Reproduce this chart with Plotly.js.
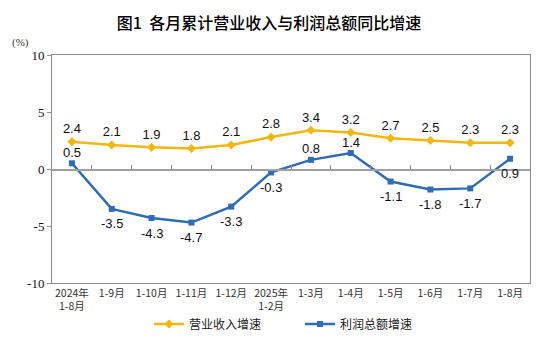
<!DOCTYPE html>
<html><head><meta charset="utf-8">
<script src="https://cdn.plot.ly/plotly-3.0.1.min.js"></script>
<style>html,body{margin:0;padding:0;background:#fff}</style>
</head><body>
<div id="chart" style="width:549px;height:354px"></div>
<script>
const categories = ["2024年<br>1-8月","1-9月","1-10月","1-11月","1-12月","2025年<br>1-2月","1-3月","1-4月","1-5月","1-6月","1-7月","1-8月"];
const revenueGrowth = [2.4, 2.1, 1.9, 1.8, 2.1, 2.8, 3.4, 3.2, 2.7, 2.5, 2.3, 2.3];
const profitGrowth = [0.5, -3.5, -4.3, -4.7, -3.3, -0.3, 0.8, 1.4, -1.1, -1.8, -1.7, 0.9];
const profitLabelAbove = [true, false, false, false, false, false, true, true, false, false, false, false];
const yTicks = [-10, -5, 0, 5, 10];
const seriesNames = ["营业收入增速", "利润总额增速"];

const cjk = '"Noto Sans CJK SC", sans-serif';
const numFont = {family:'"Liberation Sans", Arial, sans-serif', size:13, color:'#111'};
const yellow = '#F5B70F', blue = '#2E6CB5';
const idx = categories.map((c,i)=>i);

const traces = [
  {x: idx, y: revenueGrowth, name: seriesNames[0], type:'scatter', mode:'lines+markers+text',
   line:{color:yellow, width:2.5}, marker:{symbol:'diamond', size:7, color:yellow},
   text: revenueGrowth.map(v=>v.toFixed(1)), textposition:'top center',
   textfont:numFont, cliponaxis:false},
  {x: idx, y: profitGrowth, name: seriesNames[1], type:'scatter', mode:'lines+markers',
   line:{color:blue, width:2.5}, marker:{symbol:'square', size:6, color:blue}, cliponaxis:false}
];

const profitAnn = profitGrowth.map((v,i)=>({
  x:i, y:v, xref:'x', yref:'y', text:v.toFixed(1), showarrow:false,
  yanchor:'middle', xanchor:'center', yshift: profitLabelAbove[i] ? 11 : -15, font:numFont
}));

const layout = {
  width:549, height:354,
  margin:{l:52, r:19, t:55, b:71, autoexpand:false},
  paper_bgcolor:'#fff', plot_bgcolor:'#fff',
  title:{text:'图1  各月累计营业收入与利润总额同比增速', font:{family:cjk, size:16, color:'#000', weight:500}, x:0.49, xanchor:'center', y:0.935, yanchor:'middle'},
  showlegend:true,
  legend:{orientation:'h', x:0.203, xanchor:'left', y:-0.18, yanchor:'middle', bgcolor:'rgba(0,0,0,0)',
    font:{family:cjk, size:12, color:'#222'}, itemwidth:30, traceorder:'normal',
    entrywidth:106, entrywidthmode:'pixels'},
  xaxis:{type:'linear', range:[-0.5, categories.length-0.5], tickvals: idx, ticktext: categories,
    showgrid:false, zeroline:false, showline:true, mirror:true, linecolor:'#8c8c8c', linewidth:1,
    ticks:'', tickfont:{family:cjk, size:10.5, color:'#333'}},
  xaxis2:{overlaying:'x', anchor:'free', position:0.5, range:[-0.5, categories.length-0.5],
    tickvals: idx.slice(1).map(i=>i-0.5), ticks:'inside', ticklen:4, tickcolor:'#8c8c8c',
    showticklabels:false, showgrid:false, zeroline:false, showline:true, linecolor:'#a0a0a0', linewidth:1.5},
  yaxis:{range:[-10,10], tickvals:yTicks, ticktext:yTicks.map(String), showgrid:false, zeroline:false,
    showline:true, mirror:true, linecolor:'#8c8c8c', ticks:'outside', ticklen:4, tickcolor:'#8c8c8c',
    tickfont:{family:'"Liberation Serif", serif', size:13, color:'#111'}},
  annotations:[{text:'(%)', xref:'paper', yref:'paper', x:-0.065, y:1.055, xanchor:'center', yanchor:'middle',
    showarrow:false, font:{family:'"Liberation Serif", serif', size:11, color:'#333'}}].concat(profitAnn)
};
traces.push({x:[0], y:[0], xaxis:'x2', yaxis:'y', mode:'markers', marker:{opacity:0}, showlegend:false, hoverinfo:'skip'});
Plotly.newPlot('chart', traces, layout, {staticPlot:true});
</script>
</body></html>
